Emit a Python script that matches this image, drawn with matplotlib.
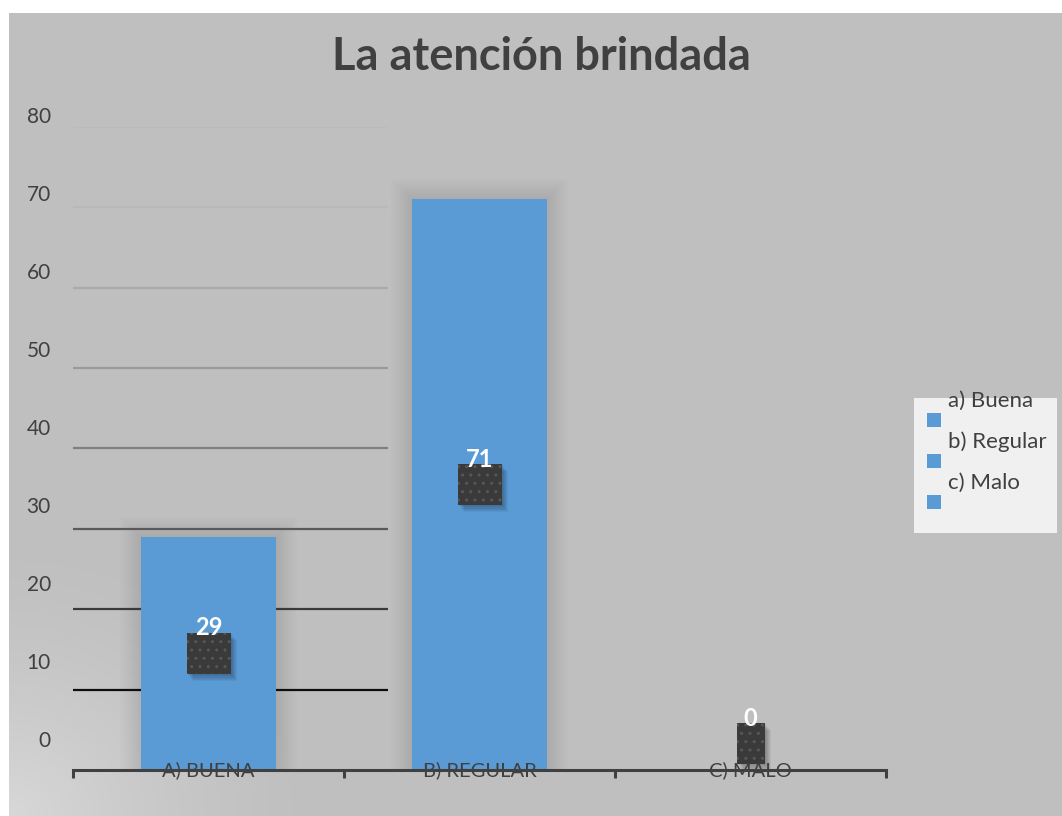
import numpy as np
import matplotlib
matplotlib.use('Agg')
import matplotlib.pyplot as plt
from matplotlib.patches import Rectangle
from matplotlib import transforms

categorias = ['A) BUENA', 'B) REGULAR', 'C) MALO']
valores = [29, 71, 0]
leyenda = ['a) Buena', 'b) Regular', 'c) Malo']
yticks = [0, 10, 20, 30, 40, 50, 60, 70, 80]
# gridline shades, 10 .. 80
colores_grid = ['#0d0d0d', '#3a3a3a', '#5a5a5a', '#808080', '#9a9a9a', '#aaaaaa', '#b9b9b9', '#bbbbbb']

azul = '#5B9BD5'
gris_txt = '#404040'
fuente = 'Lato'

fig = plt.figure(figsize=(10.62, 8.16), dpi=100)
fig.patch.set_facecolor('white')

# gray chart area with a lighter patch at the lower-left corner
bg = fig.add_axes([9 / 1062, 0, 1 - 9 / 1062, 1 - 13 / 816], zorder=0)
yy, xx = np.mgrid[0:803, 0:1053]
d = np.sqrt((xx / 1.0) ** 2 + ((802 - yy) / 0.9) ** 2)
luz = np.clip(1 - d / 320.0, 0, 1) ** 1.5
img = 191 + luz * 25
bg.imshow(np.dstack([img, img, img]) / 255.0, aspect='auto', interpolation='bilinear')
bg.axis('off')

ax = fig.add_axes([73 / 1062, 1 - 770 / 816, (886 - 73) / 1062, (770 - 126.8) / 816], zorder=1)
ax.set_facecolor('none')
x = np.arange(len(categorias))
ax.set_xlim(-0.5, len(categorias) - 0.5)
ax.set_ylim(0, 80)

# soft halo behind the bars
for k in range(1, 11):
    ax.bar(x, [v + 0.25 * k if v > 0 else 0 for v in valores], width=0.5 + 0.015 * k,
           color='black', alpha=0.007, linewidth=0, zorder=1)

# gridlines stop short of the second bar
for v, c in zip(yticks[1:], colores_grid):
    ax.plot([-0.5, 0.662], [v, v], color=c, lw=1.6, zorder=2, solid_capstyle='butt')

ax.bar(x, valores, width=0.5, color=azul, linewidth=0, zorder=3)

# textured value boxes at mid-height with white labels on top
for xi, v in zip(x, valores):
    w = 0.44 if v >= 10 else 0.28
    h = 0.41
    extra = 0.265 if v == 0 else 0.0
    base = fig.dpi_scale_trans + transforms.ScaledTranslation(xi, v / 2, ax.transData)
    for s in range(1, 7):
        ax.add_patch(Rectangle((-w / 2 + 0.01 * s, -h / 2 + extra - 0.012 * s), w, h,
                               transform=base, facecolor='black', alpha=0.05,
                               linewidth=0, zorder=4))
    ax.add_patch(Rectangle((-w / 2, -h / 2 + extra), w, h, transform=base,
                           facecolor='#3a3a3a', edgecolor='#575757', hatch='..',
                           linewidth=0, zorder=5))
    ax.annotate(str(v), xy=(xi, v / 2), xytext=(0, (0.255 + extra) * 72),
                textcoords='offset points', ha='center', va='center',
                color='white', fontsize=17, fontweight='bold', family=fuente, zorder=6)

for s in ['top', 'right', 'left']:
    ax.spines[s].set_visible(False)
ax.spines['bottom'].set_color(gris_txt)
ax.spines['bottom'].set_linewidth(2.2)
ax.spines['bottom'].set_zorder(8)
ax.xaxis.set_zorder(7)

ax.set_xticks(x)
ax.set_xticklabels(categorias, family=fuente, fontsize=14.5, color=gris_txt)
ax.set_xticks([-0.5, 0.5, 1.5, 2.5], minor=True)
ax.tick_params(axis='x', which='major', length=0, pad=0)
ax.tick_params(axis='x', which='minor', length=6, width=2.2, color=gris_txt, direction='out')
for lab in ax.get_xticklabels():
    lab.set_va('center')

ax.set_yticks(yticks)
ax.set_yticklabels([str(t) for t in yticks], family=fuente, fontsize=15, color=gris_txt)
ax.tick_params(axis='y', length=0, pad=16)
# axis labels sit a little above their gridlines
for t, lab in zip(yticks, ax.get_yticklabels()):
    off = (31 - 0.245 * t) / 100.0
    lab.set_transform(lab.get_transform() + transforms.ScaledTranslation(0, off, fig.dpi_scale_trans))

fig.text(541 / 1062, 1 - 57 / 816, 'La atención brindada', ha='center', va='center',
         fontsize=32.5, fontweight='bold', color=gris_txt, family=fuente)

# legend box
fig.patches.append(Rectangle((914 / 1062, 1 - 533 / 816), 143 / 1062, 135 / 816,
                             transform=fig.transFigure, facecolor='#f0f0f0',
                             linewidth=0, zorder=2))
for i, nombre in enumerate(leyenda):
    ty = 401 + 41 * i
    fig.text(948 / 1062, 1 - ty / 816, nombre, ha='left', va='center', fontsize=16,
             color=gris_txt, family=fuente, zorder=3)
    fig.patches.append(Rectangle((927 / 1062, 1 - (ty + 26) / 816), 14 / 1062, 14 / 816,
                                 transform=fig.transFigure, facecolor=azul,
                                 linewidth=0, zorder=3))

fig.savefig('out.png', dpi=100)
